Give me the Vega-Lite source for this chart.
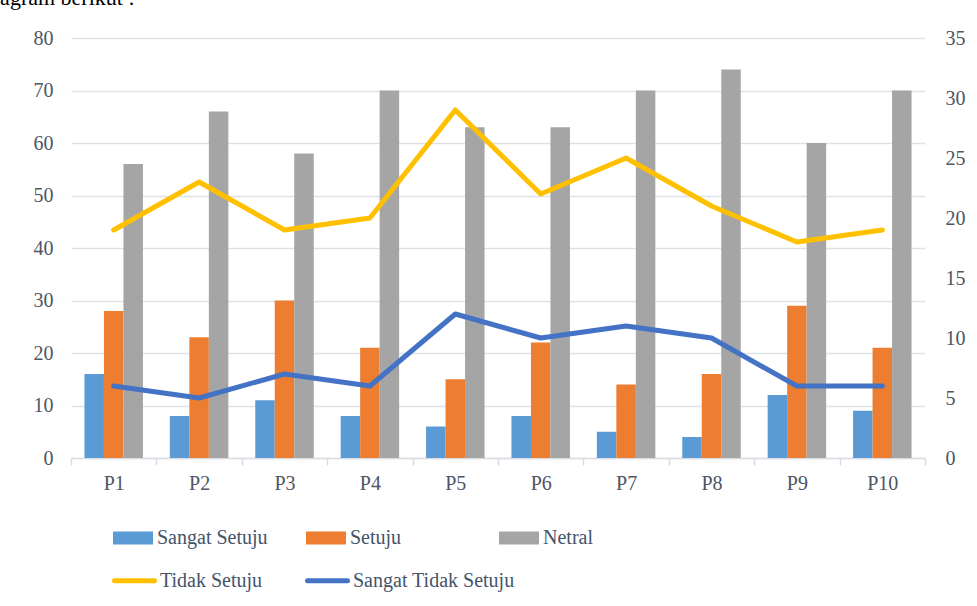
{
  "$schema": "https://vega.github.io/schema/vega-lite/v6.json",
  "width": 854,
  "height": 420,
  "autosize": {"type": "none"},
  "padding": {"left": 71, "top": 38, "right": 52, "bottom": 148},
  "background": "white",
  "config": {
    "view": {"stroke": null},
    "font": "Liberation Serif, DejaVu Serif, serif",
    "axis": {"labelFont": "Liberation Serif, DejaVu Serif, serif"},
    "legend": {"labelFont": "Liberation Serif, DejaVu Serif, serif"},
    "title": {"font": "Liberation Serif, DejaVu Serif, serif"}
  },
  "title": {
    "text": "diagram berikut :",
    "anchor": "start",
    "frame": "group",
    "dx": -88,
    "offset": 1,
    "baseline": "alphabetic",
    "fontSize": 22,
    "fontWeight": "normal",
    "color": "#000000"
  },
  "datasets": {
    "bars": [
      {"p": "P1", "series": "Sangat Setuju", "value": 16},
      {"p": "P1", "series": "Setuju", "value": 28},
      {"p": "P1", "series": "Netral", "value": 56},
      {"p": "P2", "series": "Sangat Setuju", "value": 8},
      {"p": "P2", "series": "Setuju", "value": 23},
      {"p": "P2", "series": "Netral", "value": 66},
      {"p": "P3", "series": "Sangat Setuju", "value": 11},
      {"p": "P3", "series": "Setuju", "value": 30},
      {"p": "P3", "series": "Netral", "value": 58},
      {"p": "P4", "series": "Sangat Setuju", "value": 8},
      {"p": "P4", "series": "Setuju", "value": 21},
      {"p": "P4", "series": "Netral", "value": 70},
      {"p": "P5", "series": "Sangat Setuju", "value": 6},
      {"p": "P5", "series": "Setuju", "value": 15},
      {"p": "P5", "series": "Netral", "value": 63},
      {"p": "P6", "series": "Sangat Setuju", "value": 8},
      {"p": "P6", "series": "Setuju", "value": 22},
      {"p": "P6", "series": "Netral", "value": 63},
      {"p": "P7", "series": "Sangat Setuju", "value": 5},
      {"p": "P7", "series": "Setuju", "value": 14},
      {"p": "P7", "series": "Netral", "value": 70},
      {"p": "P8", "series": "Sangat Setuju", "value": 4},
      {"p": "P8", "series": "Setuju", "value": 16},
      {"p": "P8", "series": "Netral", "value": 74},
      {"p": "P9", "series": "Sangat Setuju", "value": 12},
      {"p": "P9", "series": "Setuju", "value": 29},
      {"p": "P9", "series": "Netral", "value": 60},
      {"p": "P10", "series": "Sangat Setuju", "value": 9},
      {"p": "P10", "series": "Setuju", "value": 21},
      {"p": "P10", "series": "Netral", "value": 70}
    ],
    "lines": [
      {"p": "P1", "series": "Tidak Setuju", "value": 19},
      {"p": "P2", "series": "Tidak Setuju", "value": 23},
      {"p": "P3", "series": "Tidak Setuju", "value": 19},
      {"p": "P4", "series": "Tidak Setuju", "value": 20},
      {"p": "P5", "series": "Tidak Setuju", "value": 29},
      {"p": "P6", "series": "Tidak Setuju", "value": 22},
      {"p": "P7", "series": "Tidak Setuju", "value": 25},
      {"p": "P8", "series": "Tidak Setuju", "value": 21},
      {"p": "P9", "series": "Tidak Setuju", "value": 18},
      {"p": "P10", "series": "Tidak Setuju", "value": 19},
      {"p": "P1", "series": "Sangat Tidak Setuju", "value": 6},
      {"p": "P2", "series": "Sangat Tidak Setuju", "value": 5},
      {"p": "P3", "series": "Sangat Tidak Setuju", "value": 7},
      {"p": "P4", "series": "Sangat Tidak Setuju", "value": 6},
      {"p": "P5", "series": "Sangat Tidak Setuju", "value": 12},
      {"p": "P6", "series": "Sangat Tidak Setuju", "value": 10},
      {"p": "P7", "series": "Sangat Tidak Setuju", "value": 11},
      {"p": "P8", "series": "Sangat Tidak Setuju", "value": 10},
      {"p": "P9", "series": "Sangat Tidak Setuju", "value": 6},
      {"p": "P10", "series": "Sangat Tidak Setuju", "value": 6}
    ]
  },
  "layer": [
    {
      "data": {"name": "bars"},
      "mark": {"type": "bar"},
      "encoding": {
        "x": {
          "field": "p",
          "type": "nominal",
          "sort": ["P1", "P2", "P3", "P4", "P5", "P6", "P7", "P8", "P9", "P10"],
          "scale": {"paddingInner": 0, "paddingOuter": 0},
          "axis": {
            "title": null,
            "labelAngle": 0,
            "labelFontSize": 20,
            "labelColor": "#4d5566",
            "labelPadding": 8,
            "domainColor": "#d9dde3",
            "domainWidth": 1.5,
            "tickColor": "#d9dde3",
            "tickWidth": 1.5,
            "tickSize": 7,
            "tickBand": "extent",
            "grid": false
          }
        },
        "xOffset": {
          "field": "series",
          "type": "nominal",
          "sort": ["Sangat Setuju", "Setuju", "Netral"],
          "scale": {"paddingInner": 0, "paddingOuter": 0.69}
        },
        "y": {
          "field": "value",
          "type": "quantitative",
          "scale": {"domain": [0, 80]},
          "axis": {
            "orient": "left",
            "title": null,
            "values": [0, 10, 20, 30, 40, 50, 60, 70, 80],
            "labelFontSize": 20,
            "labelColor": "#4d5566",
            "labelPadding": 18,
            "domain": false,
            "ticks": false,
            "grid": true,
            "gridColor": "#dde2e8",
            "gridWidth": 1.5
          }
        },
        "fill": {
          "field": "series",
          "type": "nominal",
          "sort": ["Sangat Setuju", "Setuju", "Netral"],
          "scale": {
            "domain": ["Sangat Setuju", "Setuju", "Netral"],
            "range": ["#5b9bd5", "#ed7d31", "#a5a5a5"]
          },
          "legend": {
            "title": null,
            "orient": "none",
            "legendX": 42,
            "legendY": 480,
            "direction": "horizontal",
            "columns": 3,
            "gridAlign": "all",
            "columnPadding": 38,
            "padding": 0,
            "symbolType": "M-1,-0.33H1V0.33H-1Z",
            "symbolSize": 1600,
            "symbolStrokeWidth": 0,
            "labelFontSize": 20,
            "labelColor": "#44546a",
            "labelOffset": 4,
            "labelLimit": 300
          }
        }
      }
    },
    {
      "data": {"name": "lines"},
      "mark": {"type": "line", "strokeWidth": 5, "strokeCap": "round", "strokeJoin": "round"},
      "encoding": {
        "x": {
          "field": "p",
          "type": "nominal",
          "sort": ["P1", "P2", "P3", "P4", "P5", "P6", "P7", "P8", "P9", "P10"]
        },
        "y": {
          "field": "value",
          "type": "quantitative",
          "scale": {"domain": [0, 35]},
          "axis": {
            "orient": "right",
            "title": null,
            "values": [0, 5, 10, 15, 20, 25, 30, 35],
            "labelFontSize": 20,
            "labelColor": "#4d5566",
            "labelPadding": 20,
            "domain": false,
            "ticks": false,
            "grid": false
          }
        },
        "stroke": {
          "field": "series",
          "type": "nominal",
          "sort": ["Tidak Setuju", "Sangat Tidak Setuju"],
          "scale": {
            "domain": ["Tidak Setuju", "Sangat Tidak Setuju"],
            "range": ["#ffc000", "#4472c4"]
          },
          "legend": {
            "title": null,
            "orient": "none",
            "legendX": 41,
            "legendY": 520,
            "direction": "horizontal",
            "columns": 3,
            "gridAlign": "each",
            "columnPadding": 34,
            "padding": 0,
            "symbolType": "stroke",
            "symbolSize": 1600,
            "symbolStrokeWidth": 5,
            "labelFontSize": 20,
            "labelColor": "#44546a",
            "labelOffset": 3,
            "labelLimit": 300,
            "encode": {"symbols": {"update": {"strokeCap": {"value": "round"}}}}
          }
        }
      }
    }
  ],
  "resolve": {"scale": {"y": "independent"}}
}
